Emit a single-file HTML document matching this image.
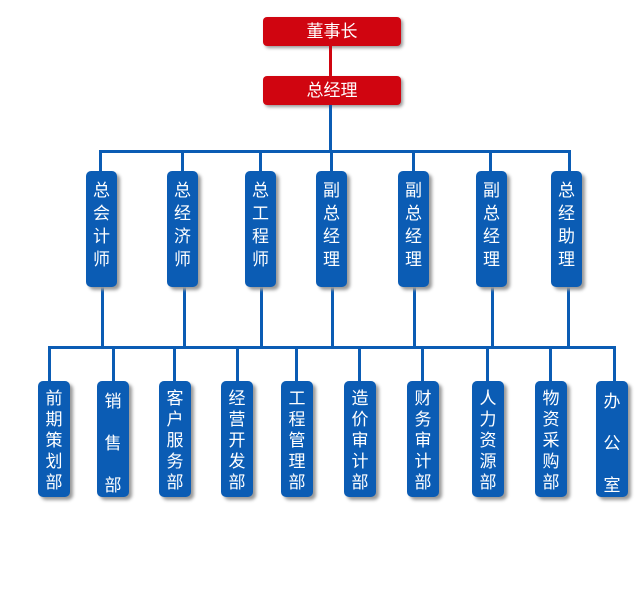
<!DOCTYPE html>
<html><head><meta charset="utf-8"><style>
body{margin:0;width:640px;height:600px;background:#fff;position:relative;overflow:hidden;font-family:"Liberation Sans","Noto Sans CJK SC",sans-serif}
.l{position:absolute;background:#0b5cb4}
.r{position:absolute;background:#d00510;color:#fff;font-size:17px;text-align:center;line-height:29px;border-radius:4px;box-shadow:2px 2px 3px #999;width:138px;height:29px;left:263px}
.b{position:absolute;background:#0b5cb4;color:#fff;font-size:17px;text-align:center;border-radius:5px;box-shadow:3px 3px 3px #999;width:31px;height:116px;line-height:21px;box-sizing:border-box;padding-top:7px}
.t{top:171px;padding-top:8px;line-height:23px}
.d{top:381px;height:116px;width:32px}
</style></head><body>
<div class="r" style="top:17px">董事长</div>
<div style="position:absolute;left:329px;top:46px;width:3px;height:30px;background:#d00510"></div>
<div class="r" style="top:76px">总经理</div>
<div class="l" style="left:329px;top:105px;width:3px;height:47px"></div>
<div class="l" style="left:99px;top:150px;width:472px;height:3px"></div>
<div class="l" style="left:99px;top:150px;width:3px;height:21px"></div>
<div class="l" style="left:181px;top:150px;width:3px;height:21px"></div>
<div class="l" style="left:259px;top:150px;width:3px;height:21px"></div>
<div class="l" style="left:330px;top:150px;width:3px;height:21px"></div>
<div class="l" style="left:412px;top:150px;width:3px;height:21px"></div>
<div class="l" style="left:489px;top:150px;width:3px;height:21px"></div>
<div class="l" style="left:568px;top:150px;width:3px;height:21px"></div>
<div class="l" style="left:101px;top:287px;width:3px;height:61px"></div>
<div class="l" style="left:183px;top:287px;width:3px;height:61px"></div>
<div class="l" style="left:260px;top:287px;width:3px;height:61px"></div>
<div class="l" style="left:331px;top:287px;width:3px;height:61px"></div>
<div class="l" style="left:413px;top:287px;width:3px;height:61px"></div>
<div class="l" style="left:491px;top:287px;width:3px;height:61px"></div>
<div class="l" style="left:567px;top:287px;width:3px;height:61px"></div>
<div class="l" style="left:48px;top:346px;width:568px;height:3px"></div>
<div class="l" style="left:48px;top:346px;width:3px;height:35px"></div>
<div class="l" style="left:112px;top:346px;width:3px;height:35px"></div>
<div class="l" style="left:173px;top:346px;width:3px;height:35px"></div>
<div class="l" style="left:236px;top:346px;width:3px;height:35px"></div>
<div class="l" style="left:295px;top:346px;width:3px;height:35px"></div>
<div class="l" style="left:358px;top:346px;width:3px;height:35px"></div>
<div class="l" style="left:421px;top:346px;width:3px;height:35px"></div>
<div class="l" style="left:486px;top:346px;width:3px;height:35px"></div>
<div class="l" style="left:549px;top:346px;width:3px;height:35px"></div>
<div class="l" style="left:613px;top:346px;width:3px;height:35px"></div>
<div class="b t" style="left:86px">总<br>会<br>计<br>师</div>
<div class="b t" style="left:167px">总<br>经<br>济<br>师</div>
<div class="b t" style="left:245px">总<br>工<br>程<br>师</div>
<div class="b t" style="left:316px">副<br>总<br>经<br>理</div>
<div class="b t" style="left:398px">副<br>总<br>经<br>理</div>
<div class="b t" style="left:476px">副<br>总<br>经<br>理</div>
<div class="b t" style="left:551px">总<br>经<br>助<br>理</div>
<div class="b d" style="left:38px">前<br>期<br>策<br>划<br>部</div>
<div class="b d" style="left:97px;line-height:42px;padding-top:0">销<br>售<br>部</div>
<div class="b d" style="left:159px">客<br>户<br>服<br>务<br>部</div>
<div class="b d" style="left:221px">经<br>营<br>开<br>发<br>部</div>
<div class="b d" style="left:281px">工<br>程<br>管<br>理<br>部</div>
<div class="b d" style="left:344px">造<br>价<br>审<br>计<br>部</div>
<div class="b d" style="left:407px">财<br>务<br>审<br>计<br>部</div>
<div class="b d" style="left:472px">人<br>力<br>资<br>源<br>部</div>
<div class="b d" style="left:535px">物<br>资<br>采<br>购<br>部</div>
<div class="b d" style="left:596px;line-height:42px;padding-top:0">办<br>公<br>室</div>
</body></html>
